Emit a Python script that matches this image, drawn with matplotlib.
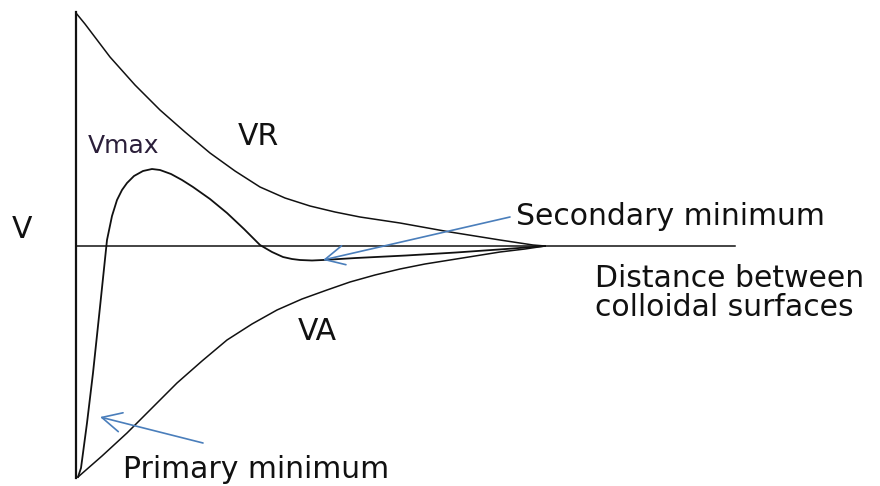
import numpy as np
import matplotlib
matplotlib.use("Agg")
import matplotlib.pyplot as plt

# DLVO-style sketch: repulsion (VR), attraction (VA) and the net potential
vr_d = [0, 9, 34, 59, 84, 109, 134, 159, 184, 209, 234, 259, 284, 324, 374, 424, 457, 469]
vr_v = [233, 222, 189, 161, 136, 114, 93, 75, 59, 48, 40, 34, 29, 23, 14, 6, 1, 0]

va_d = [2, 26, 51, 76, 101, 126, 151, 176, 201, 226, 251, 274, 299, 324, 349, 374, 399, 424, 449, 469]
va_v = [-231, -210, -187, -162, -137, -115, -94, -78, -64, -53, -44, -36, -29, -23, -18, -14, -10, -6, -3, 0]

net_d = [2, 5, 11, 17, 24, 31, 36, 41, 46, 51, 58, 67, 76, 84, 95, 106, 117, 134,
         151, 168, 184, 196, 207, 216, 224, 236, 247, 280, 330, 380, 430, 469]
net_v = [-231, -222, -177, -127, -61, 6, 30, 46, 56, 63, 70, 75, 77, 76, 72, 66, 59, 47,
         33, 17, 1, -6, -11, -13, -14, -14.5, -14, -12, -9.5, -6.5, -3, 0]

axis_top, axis_bottom, axis_right = 234, -232, 659

fig = plt.figure(figsize=(8.8, 4.86), dpi=100)
ax = fig.add_axes([0, 0, 1, 1])
ax.set_xlim(-76, 804)
ax.set_ylim(-240, 246)
ax.axis("off")

ink = "#111111"
blue = "#4a7ebb"

# axes drawn by hand
ax.plot([0, 0], [axis_bottom, axis_top], color=ink, lw=1.6)
ax.plot([0, axis_right], [0, 0], color=ink, lw=1.1)

ax.plot(vr_d, vr_v, color=ink, lw=1.1)
ax.plot(va_d, va_v, color=ink, lw=1.1)
ax.plot(net_d, net_v, color=ink, lw=1.3)

font = "DejaVu Sans"
fs = 21.5
ax.text(-64, 8, "V", fontsize=fs, family=font, color=ink)
ax.text(162, 101, "VR", fontsize=fs, family=font, color=ink)
ax.text(222, -94, "VA", fontsize=fs, family=font, color=ink)
ax.text(12, 93, "Vmax", fontsize=18, family=font, color="#2b1f3a")
ax.text(440, 21, "Secondary minimum", fontsize=fs, family=font, color=ink)
ax.text(519, -41, "Distance between", fontsize=fs, family=font, color=ink)
ax.text(519, -70, "colloidal surfaces", fontsize=fs, family=font, color=ink)
ax.text(47, -232, "Primary minimum", fontsize=fs, family=font, color=ink)

arrow = dict(arrowstyle="->,head_length=0.7,head_width=0.35", color=blue,
             lw=1.2, mutation_scale=20, shrinkA=0, shrinkB=0)
ax.annotate("", xy=(247, -14), xytext=(434, 29), arrowprops=arrow)
ax.annotate("", xy=(24, -171), xytext=(127, -197), arrowprops=arrow)

fig.savefig("out.png", dpi=100)
